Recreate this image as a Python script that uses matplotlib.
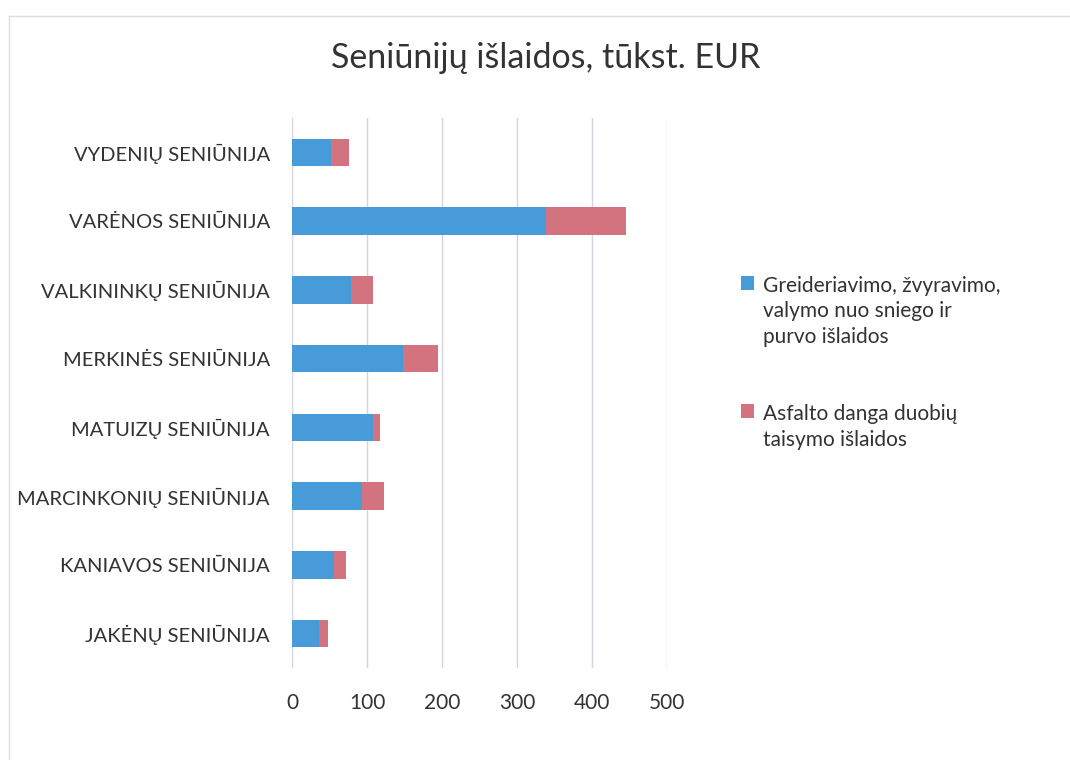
import matplotlib.pyplot as plt
from matplotlib.lines import Line2D

# data (thousand EUR)
seniunijos = ['VYDENIŲ SENIŪNIJA', 'VARĖNOS SENIŪNIJA', 'VALKININKŲ SENIŪNIJA',
              'MERKINĖS SENIŪNIJA', 'MATUIZŲ SENIŪNIJA', 'MARCINKONIŲ SENIŪNIJA',
              'KANIAVOS SENIŪNIJA', 'JAKĖNŲ SENIŪNIJA']
greideriavimas = [52, 339, 79, 148, 108, 93, 56, 36]
asfaltas = [24, 106, 29, 47, 9, 29, 16, 12]
x_ticks = [0, 100, 200, 300, 400, 500]

label_1 = 'Greideriavimo, žvyravimo,\nvalymo nuo sniego ir\npurvo išlaidos'
label_2 = 'Asfalto danga duobių\ntaisymo išlaidos'

plt.rcParams['font.family'] = ['Lato', 'DejaVu Sans']

fig = plt.figure(figsize=(10.7, 7.6), dpi=100)
ax = fig.add_axes([292 / 1070, 1 - 668 / 760, 375 / 1070, 550 / 760])

y = list(range(len(seniunijos)))
ax.barh(y, greideriavimas, height=0.4, color='#479bd8', label=label_1)
ax.barh(y, asfaltas, left=greideriavimas, height=0.4, color='#d2737f', label=label_2)

ax.set_xlim(0, 500)
ax.set_ylim(len(seniunijos) - 0.5, -0.5)
ax.set_xticks(x_ticks)
ax.set_yticks(y)
ax.set_yticklabels(seniunijos)
ax.tick_params(axis='y', length=0, pad=16, labelsize=14.5, labelcolor='#333333')
ax.tick_params(axis='x', length=0, pad=18, labelsize=15, labelcolor='#333333')
ax.xaxis.grid(True, color='#d3d6e2', linewidth=1)
ax.set_axisbelow(True)
for s in ax.spines.values():
    s.set_visible(False)

fig.suptitle('Seniūnijų išlaidos, tūkst. EUR', x=0.51, y=0.945, fontsize=24.5,
             color='#333333')

leg = fig.legend(loc='upper left', bbox_to_anchor=(722 / 1070, 1 - 257 / 760),
                 frameon=False, fontsize=15, handlelength=0.65, handleheight=0.65,
                 handletextpad=0.4, labelspacing=2.75)
for t in leg.get_texts():
    t.set_color('#333333')
    t.set_linespacing(1.35)
# put the square next to the first line of each label, as in Excel
for col in leg._legend_handle_box.get_children():
    for row in col.get_children():
        row.align = 'top'

# faint border of the chart area
fig.add_artist(Line2D([9 / 1070, 9 / 1070], [0, 1 - 16 / 760], color='#dddddd', lw=1))
fig.add_artist(Line2D([9 / 1070, 1], [1 - 16 / 760, 1 - 16 / 760], color='#dddddd', lw=1))

fig.savefig('out.png', dpi=100)
